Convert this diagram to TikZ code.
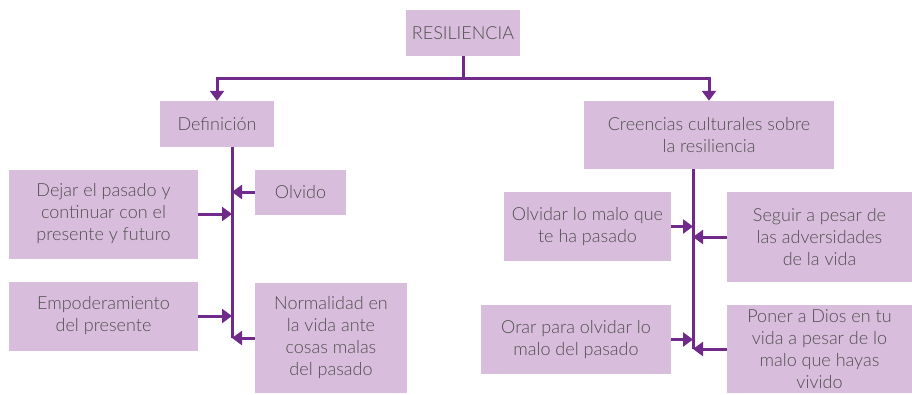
\documentclass[tikz,border=0pt]{standalone}
\usepackage{fontspec}
\setmainfont{Lato}[UprightFont=* Light]
\usetikzlibrary{arrows.meta}
\definecolor{boxfill}{HTML}{D9BDDC}
\definecolor{lineC}{HTML}{6F2A8A}
\definecolor{txt}{HTML}{4F4F4F}
\begin{document}
\begin{tikzpicture}[x=1pt,y=-1pt,
  box/.style={draw=none,fill=boxfill,text=txt,align=center,inner sep=0pt,
    font=\fontsize{18}{22}\selectfont},
  conn/.style={draw=lineC,line width=3pt},
  arr/.style={conn,-{Triangle[length=10pt,width=14pt]}}]
\useasboundingbox (0,0) rectangle (912,394);
\node[box,minimum width=114pt,minimum height=46pt] (res) at (463,33) {RESILIENCIA};
\node[box,minimum width=114pt,minimum height=46pt] (def) at (217,124) {Definición};
\node[box,minimum width=250pt,minimum height=68pt] (cre) at (709,135) {Creencias culturales sobre\\la resiliencia};
\node[box,minimum width=189pt,minimum height=89pt] (dej) at (103.5,214) {Dejar el pasado y\\continuar con el\\presente y futuro};
\node[box,minimum width=91pt,minimum height=45pt] (olv) at (300.5,192) {Olvido};
\node[box,minimum width=189pt,minimum height=69pt] (emp) at (103.5,316) {Empoderamiento\\del presente};
\node[box,minimum width=152pt,minimum height=110pt] (nor) at (331,338) {Normalidad en\\la vida ante\\cosas malas\\del pasado};
\node[box,minimum width=167pt,minimum height=69pt] (oma) at (587.5,226.5) {Olvidar lo malo que\\te ha pasado};
\node[box,minimum width=185pt,minimum height=90pt] (seg) at (819.5,237) {Seguir a pesar de\\las adversidades\\de la vida};
\node[box,minimum width=190pt,minimum height=69pt] (ora) at (576,339.5) {Orar para olvidar lo\\malo del pasado};
\node[box,minimum width=185pt,minimum height=88pt] (pon) at (819.5,349) {Poner a Dios en tu\\vida a pesar de lo\\malo que hayas\\vivido};
\coordinate (j) at (463,78);
\coordinate (L) at (232,0);
\coordinate (R) at (693,0);
\draw[conn] (res.south) -- (j);
\draw[arr] (j) -| (def.north);
\draw[arr] (j) -| (cre.north);
\draw[conn] (def.south -| L) -- (nor.west -| L);
\draw[conn] (cre.south -| R) -- (pon.west -| R);
\draw[arr] (dej.east) -- (dej.east -| L);
\draw[arr] (olv.west) -- (olv.west -| L);
\draw[arr] (emp.east) -- (emp.east -| L);
\draw[arr] (nor.west) -- (nor.west -| L);
\draw[arr] (oma.east) -- (oma.east -| R);
\draw[arr] (seg.west) -- (seg.west -| R);
\draw[arr] (ora.east) -- (ora.east -| R);
\draw[arr] (pon.west) -- (pon.west -| R);
\end{tikzpicture}
\end{document}
